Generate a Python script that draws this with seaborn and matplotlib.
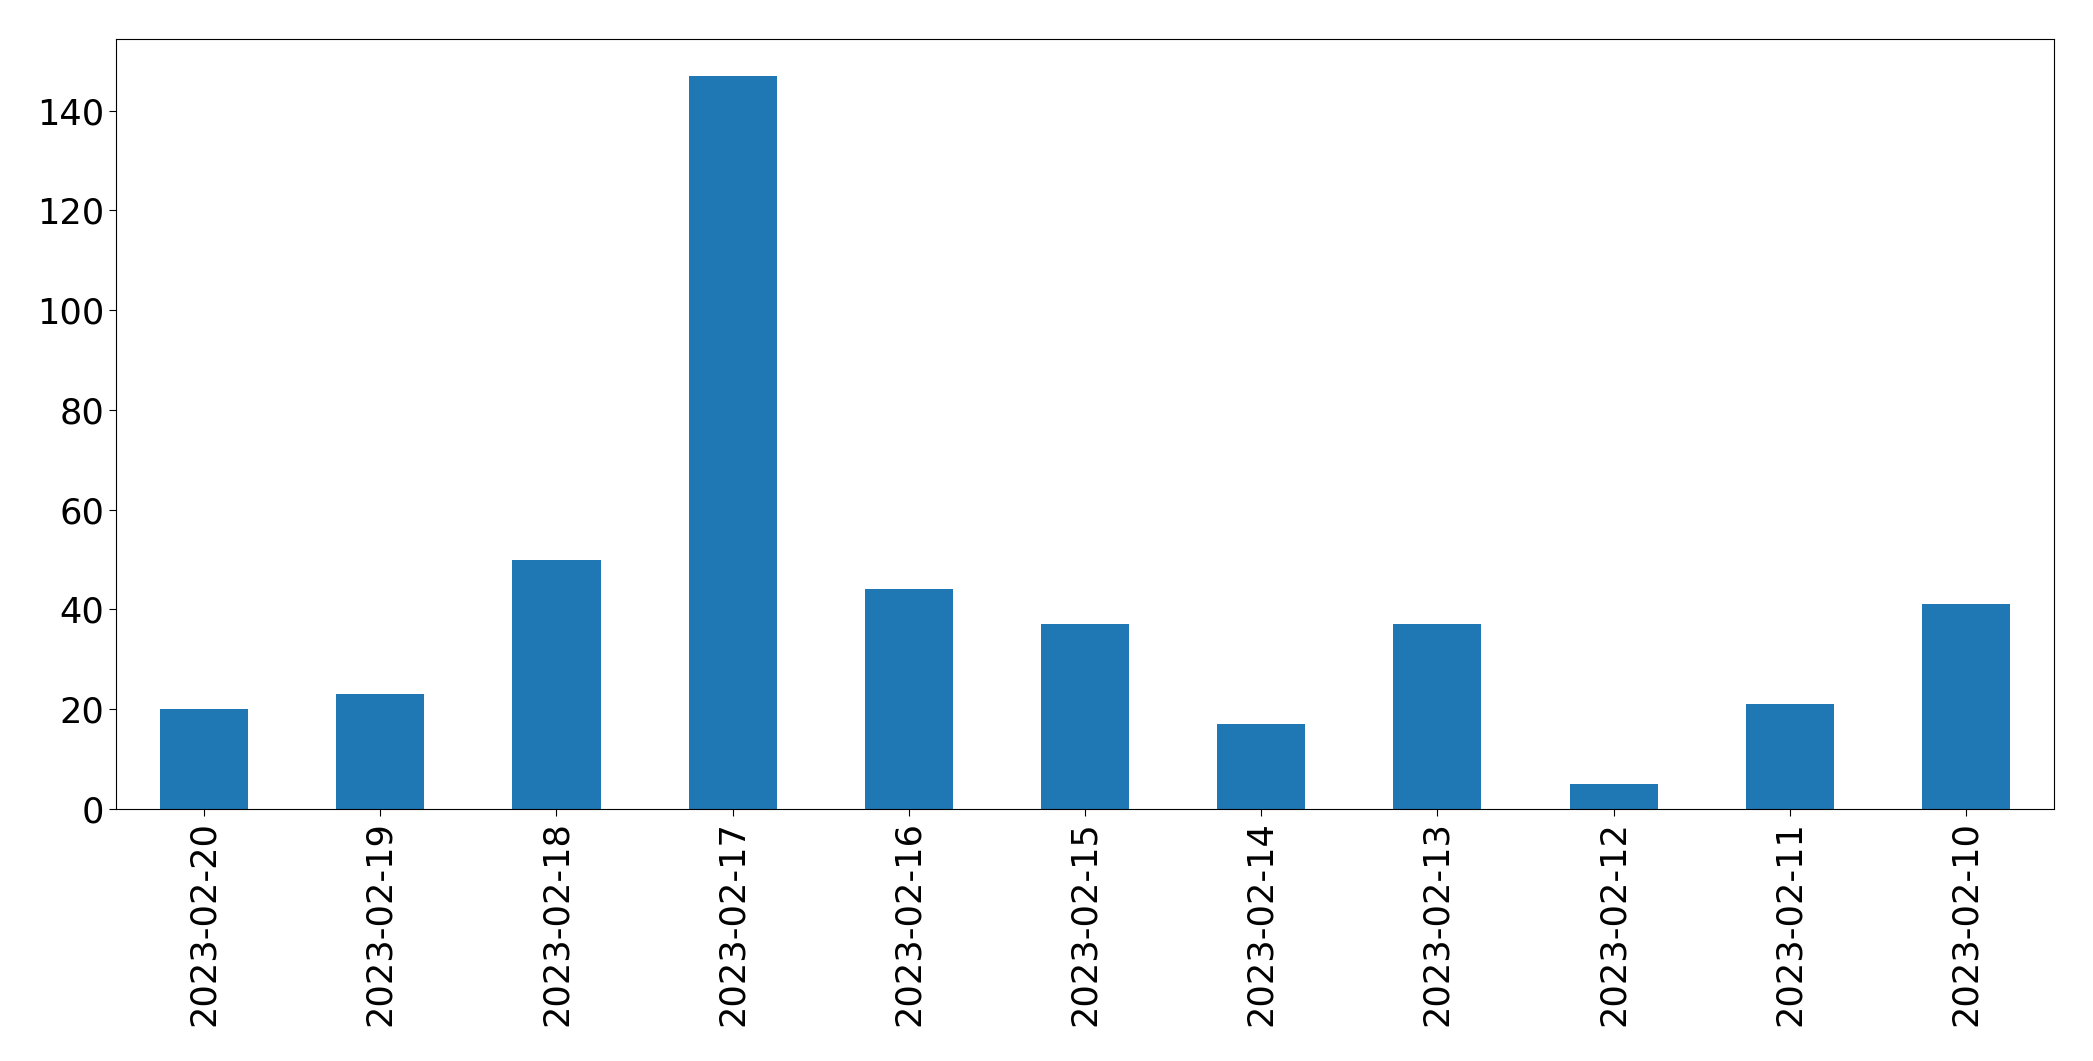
import matplotlib
matplotlib.use("Agg")
import matplotlib.pyplot as plt
import pandas as pd
import seaborn as sns

# daily counts, newest first (as in the reference)
dates = ["2023-02-20", "2023-02-19", "2023-02-18", "2023-02-17", "2023-02-16",
         "2023-02-15", "2023-02-14", "2023-02-13", "2023-02-12", "2023-02-11",
         "2023-02-10"]
counts = [20, 23, 50, 147, 44, 37, 17, 37, 5, 21, 41]

df = pd.DataFrame({"date": dates, "count": counts})

fig = plt.figure(figsize=(20.93, 10.61), dpi=100)
ax = fig.add_axes([116 / 2093, 1 - 809 / 1061, (2054 - 116) / 2093, (809 - 39) / 1061])

sns.barplot(data=df, x="date", y="count", order=dates, color="#1f77b4",
            saturation=1, width=0.5, ax=ax)

ax.set_xlim(-0.5, len(dates) - 0.5)
ax.set_ylim(0, max(counts) * 1.05)
ax.set_xlabel("")
ax.set_ylabel("")
ax.tick_params(axis="both", labelsize=25.3, length=5, color="black")
for s in ax.spines.values():
    s.set_color("black")
plt.setp(ax.get_xticklabels(), rotation=90)

fig.savefig("out.png", dpi=100)
